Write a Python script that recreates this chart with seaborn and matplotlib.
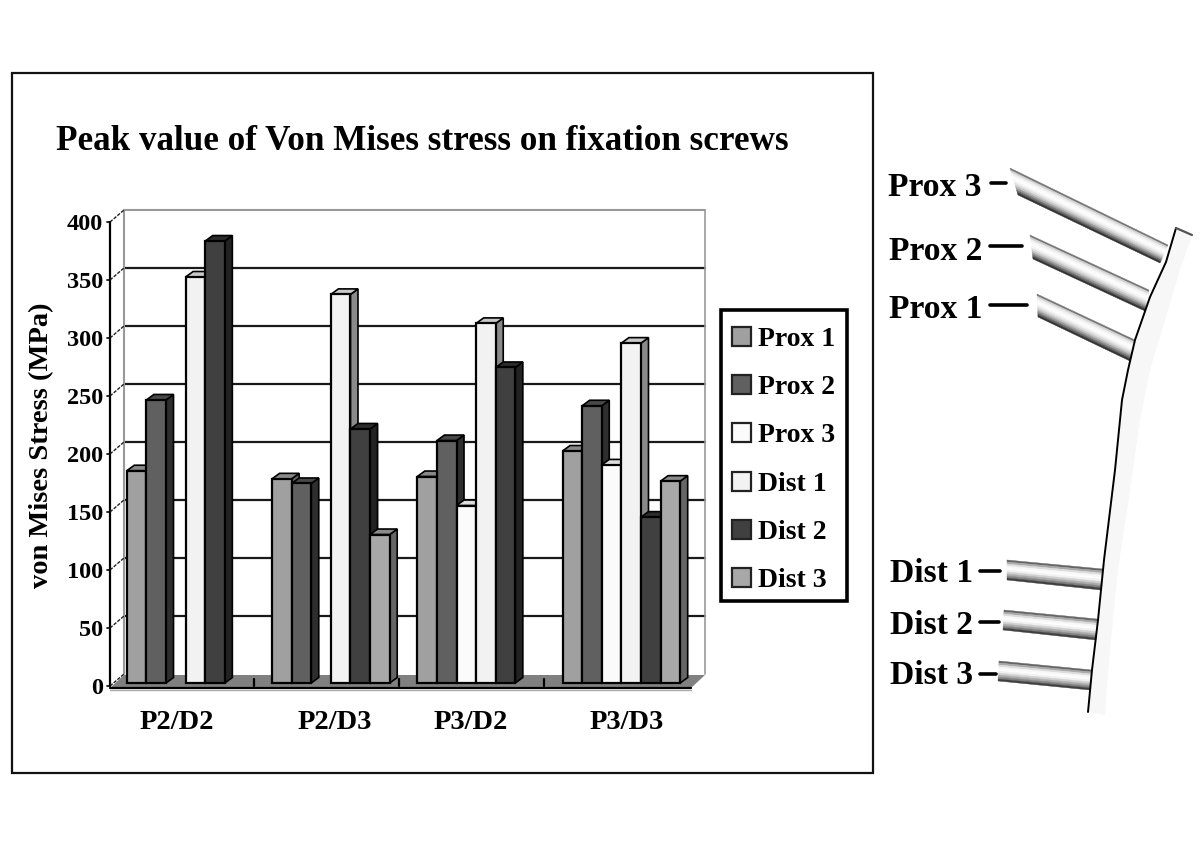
import numpy as np
import pandas as pd
import seaborn as sns
import matplotlib
matplotlib.use("Agg")
import matplotlib.pyplot as plt
from matplotlib.patches import Polygon, Rectangle, Patch
from matplotlib.transforms import Affine2D, IdentityTransform

configs = ["P2/D2", "P2/D3", "P3/D2", "P3/D3"]
screws = ["Prox 1", "Prox 2", "Prox 3", "Dist 1", "Dist 2", "Dist 3"]
prox1 = [183, 176, 178, 200]
prox2 = [244, 172, 209, 239]
prox3 = [np.nan, np.nan, 153, 188]
dist1 = [350, 335, 310, 293]
dist2 = [381, 219, 272, 143]
dist3 = [np.nan, 128, np.nan, 174]
yticks = [0, 50, 100, 150, 200, 250, 300, 350, 400]

front_colors = ["#a0a0a0", "#606060", "#fbfbfb", "#f2f2f2", "#404040", "#a8a8a8"]
side_colors = ["#666666", "#2e2e2e", "#999999", "#8a8a8a", "#222222", "#666666"]
top_colors = ["#888888", "#484848", "#dddddd", "#c8c8c8", "#2c2c2c", "#8a8a8a"]

sns.set_style("white")
plt.rcParams["font.family"] = ["Liberation Serif", "DejaVu Serif"]
plt.rcParams["font.weight"] = "bold"
plt.rcParams["text.color"] = "black"
plt.rcParams["axes.labelcolor"] = "black"
plt.rcParams["xtick.color"] = "black"
plt.rcParams["ytick.color"] = "black"

W, H = 1200, 857
fig = plt.figure(figsize=(W / 100, H / 100), dpi=100, facecolor="white")
PX = Affine2D().scale(1, -1).translate(0, H)   # reference-pixel space

L, R, T, B = 110, 691, 222, 686
ax = fig.add_axes([L / W, 1 - B / H, (R - L) / W, (B - T) / H])
ax.patch.set_visible(False)

df = pd.DataFrame({"config": configs, "Prox 1": prox1, "Prox 2": prox2, "Prox 3": prox3,
                   "Dist 1": dist1, "Dist 2": dist2, "Dist 3": dist3})
long = df.melt(id_vars="config", var_name="screw", value_name="stress")
sns.barplot(data=long, x="config", y="stress", hue="screw", order=configs, hue_order=screws,
            palette=dict(zip(screws, front_colors)), saturation=1, width=0.81, gap=0,
            errorbar=None, edgecolor="black", linewidth=1.6, legend=False, ax=ax)
ax.set_xlim(-0.5, 3.5)
ax.set_ylim(0, 400)
sns.despine(ax=ax, left=True, bottom=True, right=True, top=True)

ax.set_yticks(yticks)
ax.tick_params(axis="y", length=0, pad=5, labelsize=17.5)
ax.tick_params(axis="x", length=0, pad=17, labelsize=20.5)
for lab, dx in zip(ax.get_xticklabels(), [-6, 7, -2, 8]):
    lab.set_transform(lab.get_transform() + Affine2D().translate(dx, 0))
ax.set_xlabel("")
ax.set_ylabel("von Mises Stress (MPa)", fontsize=20.5, fontweight="bold")
ax.yaxis.set_label_coords((54 - L) / (R - L), (B - 445) / (B - T))
ax.set_title("Peak value of Von Mises stress on fixation screws", fontsize=25.3, fontweight="bold",
             x=(422 - L) / (R - L), y=(B - 150) / (B - T), ha="center", va="baseline", pad=0)

# back wall, floor, walls (pseudo-3D chart frame)
WX, WY = 14, 12
wall = ax.transData + Affine2D().translate(WX, WY)
for v in yticks[1:-1]:
    ax.plot([-0.5, 3.5], [v, v], color="#1a1a1a", lw=1.6, transform=wall, clip_on=False, zorder=1)
ax.plot([-0.5, 3.5], [400, 400], color="#999999", lw=1.5, transform=wall, clip_on=False, zorder=1)
ax.plot([3.5, 3.5], [0, 400], color="#999999", lw=1.2, transform=wall, clip_on=False, zorder=1)
ax.plot([-0.5, -0.5], [0, 400], color="#999999", lw=1.5, transform=wall, clip_on=False, zorder=1)
ax.plot([-0.5, -0.5], [0, 400], color="black", lw=1.6, clip_on=False, zorder=3)
for v in yticks:
    ax.plot([L, L + WX], [B - v * 1.16, B - v * 1.16 - WY], color="#222222", lw=1.0,
            ls=(0, (2.5, 1)), transform=PX, clip_on=False, zorder=3)
    ax.plot([L - 3, L], [B - v * 1.16, B - v * 1.16], color="black", lw=1.2,
            transform=PX, clip_on=False, zorder=3)
ax.add_patch(Polygon([(L, B + 2), (L + WX, B - 11), (R + WX, B - 11), (R, B + 2)], closed=True,
                     facecolor="#808080", edgecolor="none", transform=PX, clip_on=False, zorder=2))
ax.plot([L, R], [B + 2, B + 2], color="black", lw=1.6, transform=PX, clip_on=False, zorder=30)
ax.plot([L, R], [B + 3.5, B + 3.5], color="#aaaaaa", lw=1, transform=PX, clip_on=False, zorder=30)
for xb in [0.5, 1.5, 2.5]:
    ax.plot([xb - 0.01, xb - 0.01], [0, 6], color="black", lw=1.6, clip_on=False, zorder=30)

# depth faces derived from each bar's own data geometry
BX, BY = 3, 3
DX, DY = 7.5, 5.5
fig.canvas.draw()
for i, cont in enumerate(ax.containers):
    for bar in cont.patches:
        if not np.isfinite(bar.get_height()) or bar.get_height() <= 0:
            continue
        x0, y0 = ax.transData.transform((bar.get_x(), 0))
        x1, y1 = ax.transData.transform((bar.get_x() + bar.get_width(), bar.get_height()))
        x0 += BX; x1 += BX; y0 += BY; y1 += BY
        z = 5 + i
        bar.set_transform(ax.transData + Affine2D().translate(BX, BY))
        bar.set_clip_on(False)
        bar.set_zorder(z)
        side = [(x1, y0), (x1 + DX, y0 + DY), (x1 + DX, y1 + DY), (x1, y1)]
        top = [(x0, y1), (x0 + DX, y1 + DY), (x1 + DX, y1 + DY), (x1, y1)]
        ax.add_patch(Polygon(side, closed=True, facecolor=side_colors[i], edgecolor="black", lw=1.2,
                             transform=IdentityTransform(), clip_on=False, zorder=z - 0.5))
        ax.add_patch(Polygon(top, closed=True, facecolor=top_colors[i], edgecolor="black", lw=1.2,
                             transform=IdentityTransform(), clip_on=False, zorder=z - 0.5))

# outer frame
ax.add_patch(Rectangle((12, 73), 861, 700, fill=False, edgecolor="#111111", lw=1.6,
                       transform=PX, clip_on=False, zorder=0))

# legend with a separately placed frame
handles = [Patch(facecolor=c, edgecolor="#222222", lw=1.6, label=s) for c, s in zip(front_colors, screws)]
leg_ax = fig.add_axes([0, 0, 1, 1])
leg_ax.axis("off")
leg_ax.set_xlim(0, W)
leg_ax.set_ylim(H, 0)
leg_ax.add_patch(Rectangle((721, 310), 126, 291, fill=False, edgecolor="black", lw=2.6, zorder=1))
leg = leg_ax.legend(handles=handles, loc="center", bbox_to_anchor=(783.5 / W, 1 - 460 / H),
                    bbox_transform=fig.transFigure, fontsize=20, frameon=False,
                    handlelength=0.68, handleheight=0.68,
                    handletextpad=0.25, labelspacing=0.83, borderpad=0, borderaxespad=0)

# implant illustration on the right
plate_left = [(1176, 228), (1166, 262), (1150, 297), (1135, 340), (1128, 370), (1122, 400),
              (1115, 470), (1104, 560), (1098, 620), (1092, 670), (1088, 712)]
plate_right = [(1105, 715), (1110, 650), (1118, 570), (1130, 490), (1140, 420), (1150, 370),
               (1165, 320), (1180, 270), (1192, 235)]
leg_ax.add_patch(Polygon(plate_left + plate_right, closed=True, facecolor="#f7f7f7", edgecolor="none", zorder=1))
lx, ly = zip(*plate_left)
leg_ax.plot(lx, ly, color="black", lw=1.4, zorder=3)
leg_ax.plot([1176, 1192], [228, 235], color="#555555", lw=1.6, zorder=3)

screw_quads = [
    ((1010, 168), (1018, 195), (1168, 245), (1160, 263)),
    ((1030, 235), (1033, 259), (1149, 290), (1145, 311)),
    ((1037, 294), (1038, 317), (1135, 340), (1130, 361)),
    ((1007, 560), (1007, 580), (1103, 569), (1101, 590)),
    ((1004, 610), (1003, 630), (1097, 619), (1096, 640)),
    ((999, 661), (998, 681), (1092, 670), (1090, 690)),
]
bands_p = ["#777777", "#d4d4d4", "#eeeeee", "#fafafa", "#fdfdfd", "#f4f4f4", "#e0e0e0", "#c4c4c4", "#9a9a9a", "#6a6a6a", "#333333"]
bands_d = ["#666666", "#aaaaaa", "#dddddd", "#f8f8f8", "#fdfdfd", "#f0f0f0", "#d0d0d0", "#aaaaaa", "#808080", "#404040"]
for k, (tl, bl, tr, br) in enumerate(screw_quads):
    tl, bl, tr, br = map(np.array, (tl, bl, tr, br))
    bands = bands_p if k < 3 else bands_d
    n = len(bands)
    for j, g in enumerate(bands):
        a, b = j / n, (j + 1) / n
        poly = [tl + (bl - tl) * a, tr + (br - tr) * a, tr + (br - tr) * b, tl + (bl - tl) * b]
        leg_ax.add_patch(Polygon(poly, closed=True, facecolor=g, edgecolor=g, lw=0.3, zorder=2))

side_labels = [("Prox 3", 888, 187, 991, 1006, 183), ("Prox 2", 889, 251, 990, 1022, 246),
               ("Prox 1", 889, 310, 990, 1027, 305), ("Dist 1", 890, 573, 980, 1000, 571),
               ("Dist 2", 890, 625, 980, 999, 622), ("Dist 3", 890, 676, 980, 996, 674)]
for txt, tx, ty, x0, x1, yl in side_labels:
    leg_ax.text(tx, ty, txt, fontsize=24.2, fontweight="bold", ha="left", va="center", color="black")
    leg_ax.plot([x0, x1], [yl, yl], color="black", lw=2.6, zorder=3)

fig.savefig("out.png", dpi=100, facecolor="white")
